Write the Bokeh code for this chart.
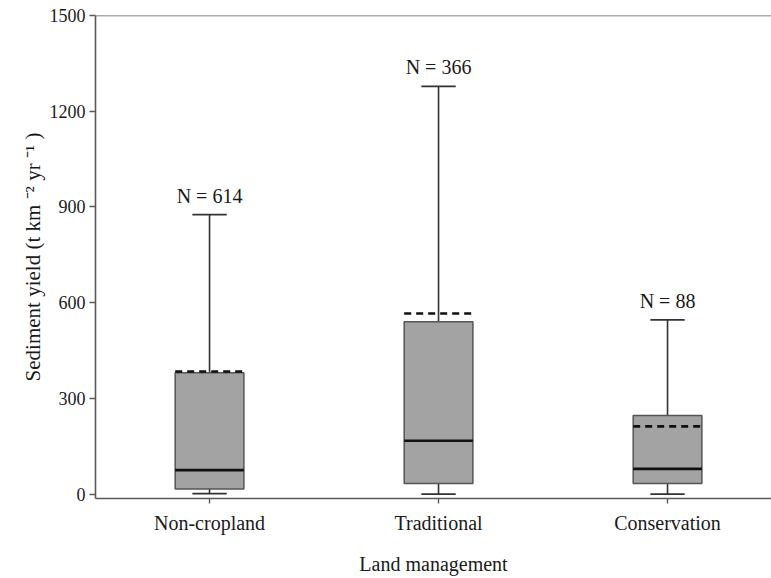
from bokeh.plotting import figure
from bokeh.models import Range1d, FixedTicker, Span, ColumnDataSource
from bokeh.core.properties import value
from bokeh.embed import file_html
from bokeh.resources import INLINE

# Sediment yield summary statistics per land-management class (t km-2 yr-1)
categories = ["Non-cropland", "Traditional", "Conservation"]
n_obs = [614, 366, 88]
lower_whisker = [1, 0, 0]
q1 = [16, 33, 33]
median = [75, 167, 79]
mean = [384, 566, 212]
q3 = [380, 540, 246]
upper_whisker = [876, 1278, 546]

y_ticks = [0, 300, 600, 900, 1200, 1500]

FONT = "Liberation Serif"
TEXT = "#1a1a1a"
AXIS = "#5a5a5a"

xs = list(range(len(categories)))
box_w = 0.30
cap_w = 0.15

src = ColumnDataSource(dict(
    x=xs,
    left=[x - box_w / 2 for x in xs],
    right=[x + box_w / 2 for x in xs],
    cap_l=[x - cap_w / 2 for x in xs],
    cap_r=[x + cap_w / 2 for x in xs],
    lo=lower_whisker, q1=q1, med=median, mean=mean, q3=q3, hi=upper_whisker,
    label=[f"N = {n}" for n in n_obs],
))

p = figure(
    width=771, height=578,
    x_range=Range1d(-0.498, 2.454),
    y_range=Range1d(-14, 1500),
    output_backend="svg", toolbar_location=None,
    min_border_left=95, min_border_right=0,
    min_border_top=15, min_border_bottom=80,
)
p.outline_line_color = None
p.background_fill_color = "white"
p.border_fill_color = "white"
p.xgrid.visible = False
p.ygrid.visible = False

# whiskers and caps
p.segment(x0="x", y0="q3", x1="x", y1="hi", source=src, line_color="#333333", line_width=1.6)
p.segment(x0="x", y0="lo", x1="x", y1="q1", source=src, line_color="#333333", line_width=1.6)
p.segment(x0="cap_l", y0="hi", x1="cap_r", y1="hi", source=src, line_color="#333333", line_width=1.8)
p.segment(x0="cap_l", y0="lo", x1="cap_r", y1="lo", source=src, line_color="#333333", line_width=1.8)

# interquartile boxes
p.vbar(x="x", width=box_w, bottom="q1", top="q3", source=src,
       fill_color="#a3a3a3", line_color="#555555", line_width=1.5)

# median (solid) and mean (dashed)
p.segment(x0="left", y0="med", x1="right", y1="med", source=src, line_color="#111111", line_width=2.6)
p.segment(x0="left", y0="mean", x1="right", y1="mean", source=src, line_color="#111111",
          line_width=2.6, line_dash="7 5")

# sample sizes above the upper whiskers
p.text(x="x", y="hi", text="label", source=src, y_offset=-8,
       text_align="center", text_baseline="bottom",
       text_font=value(FONT), text_font_size="20px", text_color=TEXT)

# top frame line
p.add_layout(Span(location=1500, dimension="width", line_color=AXIS, line_width=1.6))

# x axis
p.xaxis.ticker = FixedTicker(ticks=xs)
p.xaxis.major_label_overrides = {i: c for i, c in enumerate(categories)}
p.xaxis.axis_label = "Land management"
p.xaxis.minor_tick_line_color = None
p.xaxis.major_tick_in = 0
p.xaxis.major_tick_out = 5
p.xaxis.major_label_standoff = 8
p.xaxis.axis_label_standoff = 16

# y axis
p.yaxis.ticker = FixedTicker(ticks=y_ticks)
p.yaxis.axis_label = "Sediment yield (t km \u207b\u00b2 yr \u207b\u00b9 )"
p.yaxis.minor_tick_line_color = None
p.yaxis.major_tick_in = 0
p.yaxis.major_tick_out = 6
p.yaxis.major_label_standoff = 4
p.yaxis.axis_label_standoff = 2

for ax in (p.xaxis, p.yaxis):
    ax.axis_line_color = AXIS
    ax.axis_line_width = 1.6
    ax.major_tick_line_color = AXIS
    ax.major_tick_line_width = 1.4
    ax.major_label_text_font = FONT
    ax.major_label_text_color = TEXT
    ax.axis_label_text_font = FONT
    ax.axis_label_text_font_style = "normal"
    ax.axis_label_text_color = TEXT

p.xaxis.axis_label_text_font_size = "20px"
p.yaxis.axis_label_text_font_size = "21px"
p.xaxis.major_label_text_font_size = "20px"
p.yaxis.major_label_text_font_size = "18px"

open("out.html", "w").write(file_html(p, INLINE))
